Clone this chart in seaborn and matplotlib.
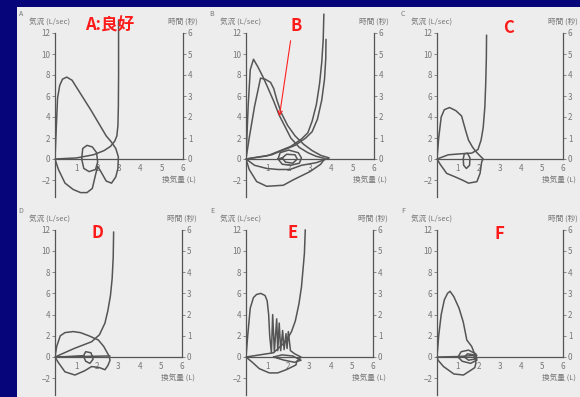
import matplotlib
matplotlib.use("Agg")
import matplotlib.pyplot as plt
from matplotlib.patches import Rectangle, FancyArrowPatch
import pandas as pd
import seaborn as sns

# flow-volume loops: volume (L) / flow (L/sec); volume-time curves: volume (L) / time (sec)
A_fv_vol = [0, 0.05, 0.12, 0.22, 0.35, 0.55, 0.8, 1.7, 2.4, 2.65, 2.85, 2.97, 2.95, 2.85, 2.65, 2.4,
            2.15, 2.0, 1.9, 1.75, 1.5, 1.2, 0.85, 0.47, 0.16, 0]
A_fv_flow = [0, 2.5, 5.8, 7.0, 7.6, 7.8, 7.5, 4.6, 2.2, 1.6, 1.0, 0.2, -0.9, -1.7, -2.3, -2.1,
             -1.2, -0.7, -1.5, -2.8, -3.2, -3.2, -2.9, -2.3, -1.0, 0]
A_tid_vol = [1.25, 1.3, 1.5, 1.75, 1.95, 2.0, 1.9, 1.6, 1.35, 1.25]
A_tid_flow = [0, 1.0, 1.3, 1.15, 0.6, -0.3, -1.0, -1.2, -0.9, 0]
A_vt_vol = [0, 1.0, 1.8, 2.3, 2.6, 2.8, 2.9, 2.95, 2.97, 2.98, 2.98, 2.98]
A_vt_time = [0, 0.05, 0.2, 0.4, 0.6, 0.85, 1.1, 1.6, 2.5, 4.0, 5.5, 6.6]

B_fv1_vol = [0, 0.1, 0.2, 0.35, 0.55, 0.8, 1.0, 1.3, 1.55, 1.85, 2.1, 2.5, 2.9, 3.3, 3.7,
             3.5, 3.0, 2.6, 2.2, 1.75, 0.97, 0.5, 0.15, 0]
B_fv1_flow = [0, 5.0, 8.5, 9.5, 8.8, 7.8, 6.9, 5.5, 4.2, 3.0, 2.0, 1.1, 0.6, 0.25, 0.05,
              -0.5, -1.2, -1.6, -2.0, -2.5, -2.6, -2.15, -1.0, 0]
B_fv2_vol = [0, 0.15, 0.4, 0.68, 0.9, 1.15, 1.3, 1.45, 1.65, 1.95, 2.3, 2.7, 3.1, 3.5, 3.9,
             3.3, 2.6, 2.06, 1.5, 0.97, 0.4, 0]
B_fv2_flow = [0, 2.0, 5.0, 7.7, 7.6, 7.3, 6.7, 5.6, 4.4, 3.2, 2.2, 1.4, 0.8, 0.35, 0.1,
              -0.35, -0.6, -1.0, -1.0, -0.9, -0.6, 0]
B_tid_vol = [1.5, 1.6, 2.0, 2.45, 2.6, 2.5, 2.1, 1.7, 1.5, 1.7, 1.9, 2.3, 2.4, 2.2, 1.85, 1.7]
B_tid_flow = [0, 0.6, 0.85, 0.6, 0.1, -0.4, -0.6, -0.5, 0, 0.1, 0.45, 0.4, 0, -0.4, -0.3, 0.1]
B_vt1_vol = [0, 1.0, 2.1, 2.6, 2.9, 3.1, 3.3, 3.45, 3.55, 3.62, 3.65]
B_vt1_time = [0, 0.15, 0.6, 0.95, 1.25, 1.8, 2.6, 3.6, 4.6, 5.7, 6.9]
B_vt2_vol = [0, 1.2, 2.3, 2.8, 3.1, 3.35, 3.55, 3.68, 3.74, 3.75]
B_vt2_time = [0, 0.2, 0.65, 1.0, 1.3, 1.9, 2.8, 3.8, 4.8, 5.7]

C_fv_vol = [0, 0.08, 0.2, 0.35, 0.6, 0.9, 1.17, 1.35, 1.5, 1.7, 1.9, 2.1, 2.2, 2.13, 2.05, 1.9,
            1.5, 1.2, 0.86, 0.46, 0.15, 0]
C_fv_flow = [0, 2.0, 4.0, 4.7, 4.9, 4.6, 4.1, 2.8, 1.8, 1.1, 0.6, 0.2, 0, -0.25, -1.37, -2.16,
             -2.3, -2.0, -1.7, -1.37, -0.5, 0]
C_tid_vol = [1.25, 1.3, 1.45, 1.57, 1.55, 1.4, 1.27, 1.25]
C_tid_flow = [0, 0.5, 0.55, 0.1, -0.6, -0.9, -0.6, 0]
C_vt_vol = [0, 0.54, 1.17, 1.65, 1.95, 2.1, 2.2, 2.28, 2.32, 2.35, 2.36]
C_vt_time = [0, 0.2, 0.25, 0.28, 0.45, 0.9, 1.5, 2.5, 3.6, 4.8, 5.9]

D_fv_vol = [0, 0.08, 0.25, 0.47, 0.86, 1.2, 1.6, 2.05, 2.3, 2.44, 2.55, 2.6, 2.5, 2.36, 2.1,
            1.73, 1.4, 0.94, 0.47, 0.15, 0]
D_fv_flow = [0, 1.0, 2.0, 2.3, 2.4, 2.3, 2.0, 1.6, 1.0, 0.5, 0.1, -0.3, -0.8, -1.2, -1.0,
             -0.9, -1.3, -1.7, -1.4, -0.5, 0]
D_tid_vol = [1.34, 1.45, 1.7, 1.8, 1.65, 1.45, 1.34, 0, 2.6]
D_tid_flow = [0.1, 0.5, 0.4, -0.2, -0.6, -0.4, 0.1, 0, 0.1]
D_vt_vol = [0, 0.9, 1.73, 2.1, 2.36, 2.5, 2.62, 2.7, 2.75, 2.77]
D_vt_time = [0, 0.4, 0.72, 1.05, 1.6, 2.2, 2.9, 3.7, 4.7, 5.9]

E_fv_vol = [0, 0.08, 0.2, 0.35, 0.5, 0.7, 0.9, 1.0, 1.07, 1.12, 1.2, 1.26, 1.34, 1.45, 1.5, 1.57,
            1.64, 1.73, 1.8, 1.89, 1.94, 2.0, 2.1, 2.3, 2.6, 2.4, 2.36, 1.9, 1.5, 1.1, 0.63, 0.3, 0]
E_fv_flow = [0, 2.0, 4.6, 5.6, 5.9, 6.0, 5.8, 5.3, 4.0, 2.0, 0.4, 4.0, 0.5, 3.6, 0.6, 3.2,
             0.6, 2.5, 0.7, 2.2, 0.8, 2.4, 0.6, 0.3, 0, -0.4, -0.75, -1.2, -1.5, -1.5, -1.1, -0.5, 0]
E_tid_vol = [1.3, 1.7, 2.2, 2.6, 2.3, 1.8, 1.3]
E_tid_flow = [0, 0.2, 0.1, -0.3, -0.5, -0.3, 0]
E_vt_vol = [0, 1.3, 1.9, 2.15, 2.33, 2.5, 2.62, 2.7, 2.76, 2.8]
E_vt_time = [0, 0.2, 0.75, 1.2, 1.7, 2.5, 3.3, 4.2, 4.9, 6.0]

F_fv_vol = [0, 0.08, 0.2, 0.35, 0.5, 0.62, 0.8, 1.05, 1.25, 1.42, 1.65, 1.81, 1.85, 1.8, 1.65,
            1.26, 0.8, 0.31, 0.05, 0]
F_fv_flow = [0, 2.0, 4.0, 5.4, 6.0, 6.2, 5.7, 4.6, 3.3, 1.6, 1.0, 0.2, -0.6, -1.0, -1.2,
             -1.7, -1.6, -0.9, -0.3, 0]
F_tid_vol = [1.0, 1.15, 1.5, 1.85, 1.9, 1.6, 1.2, 1.0, 1.3, 1.45, 1.75, 1.8, 1.5, 1.3]
F_tid_flow = [0, 0.5, 0.65, 0.3, -0.3, -0.6, -0.4, 0, 0, 0.3, 0.2, -0.2, -0.3, 0]
F_vt_vol = [0, 1.0, 1.9]
F_vt_time = [0, 0.02, 0.08]

flow_ticks = [-2, 0, 2, 4, 6, 8, 10, 12]
flow_labels = ["\u22122", "0", "2", "4", "6", "8", "10", "12"]
time_ticks = [0, 1, 2, 3, 4, 5, 6]
vol_ticks = [1, 2, 3, 4, 5, 6]

panels = [
    ("A", "A:良好", (55, 183, 159, 10.5), (110, 25),
     [(A_fv_vol, A_fv_flow), (A_tid_vol, A_tid_flow)], [(A_vt_vol, A_vt_time)]),
    ("B", "B", (246, 374, 159, 10.5), (296, 26),
     [(B_fv1_vol, B_fv1_flow), (B_fv2_vol, B_fv2_flow), (B_tid_vol, B_tid_flow)],
     [(B_vt1_vol, B_vt1_time), (B_vt2_vol, B_vt2_time)]),
    ("C", "C", (437, 563, 159, 10.5), (509, 28),
     [(C_fv_vol, C_fv_flow), (C_tid_vol, C_tid_flow)], [(C_vt_vol, C_vt_time)]),
    ("D", "D", (55, 182, 357, 10.6), (97, 233),
     [(D_fv_vol, D_fv_flow), (D_tid_vol, D_tid_flow)], [(D_vt_vol, D_vt_time)]),
    ("E", "E", (246, 373, 357, 10.6), (293, 233),
     [(E_fv_vol, E_fv_flow), (E_tid_vol, E_tid_flow)], [(E_vt_vol, E_vt_time)]),
    ("F", "F", (437, 563, 357, 10.6), (499, 234),
     [(F_fv_vol, F_fv_flow), (F_tid_vol, F_tid_flow)], [(F_vt_vol, F_vt_time)]),
]

W, H = 580, 397
sns.set_style("white")
plt.rcParams['font.family'] = ['Noto Sans CJK JP', 'DejaVu Sans']

fig = plt.figure(figsize=(W / 100, H / 100), dpi=100, facecolor="#06067a")
fig.patches.append(Rectangle((17 / W, 0), 1 - 17 / W, 1 - 7 / H, transform=fig.transFigure,
                             facecolor="#ededed", edgecolor="none", zorder=-5))

LINE = "#555555"
TXT = "#777777"
YMIN, YMAX = -3.6, 12

for letter, red, (x0, x1, y0, ppu), (rx, ry), fv_curves, vt_curves in panels:
    ybot = y0 - YMIN * ppu
    ytop = y0 - YMAX * ppu
    ax = fig.add_axes([x0 / W, 1 - ybot / H, (x1 - x0) / W, (ybot - ytop) / H])
    ax.set_facecolor("none")
    ax.set_xlim(0, 6)
    ax.set_ylim(YMIN, YMAX)

    for vol, flow in fv_curves:
        df = pd.DataFrame({"vol": vol, "flow": flow})
        sns.lineplot(data=df, x="vol", y="flow", sort=False, estimator=None,
                     color=LINE, lw=1.1, ax=ax, solid_joinstyle="round")

    ax.spines["top"].set_visible(False)
    ax.spines["right"].set_visible(False)
    ax.spines["bottom"].set_position(("data", 0))
    ax.spines["bottom"].set_bounds(0, 6)
    for s in ("left", "bottom"):
        ax.spines[s].set_color(LINE)
        ax.spines[s].set_linewidth(0.9)
    ax.set_yticks(flow_ticks)
    ax.set_yticklabels(flow_labels)
    ax.set_xticks(vol_ticks)
    ax.tick_params(axis="both", labelsize=5.8, colors=TXT, length=2, width=0.6, pad=1.5)
    ax.set_xlabel("")
    ax.set_ylabel("")

    tx = ax.twinx()
    tx.set_ylim(YMIN / 2, YMAX / 2)
    for vol, t in vt_curves:
        df = pd.DataFrame({"vol": vol, "time": t})
        sns.lineplot(data=df, x="vol", y="time", sort=False, estimator=None,
                     color=LINE, lw=1.1, ax=tx, solid_joinstyle="round")
    for line in tx.get_lines():
        line.set_clip_on(False)
    for s in ("top", "left", "bottom"):
        tx.spines[s].set_visible(False)
    tx.spines["right"].set_bounds(0, 6)
    tx.spines["right"].set_color(LINE)
    tx.spines["right"].set_linewidth(0.9)
    tx.set_yticks(time_ticks)
    tx.tick_params(axis="y", labelsize=5.8, colors=TXT, length=2, width=0.6, pad=1.5)
    tx.set_ylabel("")
    tx.set_xlabel("")

    ax.annotate("気流 (L/sec)", xy=(0, 12), xytext=(-4, 8), textcoords="offset points",
                ha="center", va="center", fontsize=5.5, color=TXT)
    ax.annotate("時間 (秒)", xy=(6, 12), xytext=(0, 8), textcoords="offset points",
                ha="center", va="center", fontsize=5.5, color=TXT)
    ax.annotate("換気量 (L)", xy=(5.8, 0), xytext=(0, -15), textcoords="offset points",
                ha="center", va="center", fontsize=5.5, color=TXT)
    fig.text((x0 - 34) / W, 1 - (ytop - 19) / H, letter, fontsize=5, color=TXT,
             ha="center", va="center")
    fig.text(rx / W, 1 - ry / H, red, fontsize=12, color="#ff1a1a", fontweight="bold",
             ha="center", va="center")

# red arrow in panel B
fig.patches.append(FancyArrowPatch((291 / W, 1 - 38 / H), (279 / W, 1 - 119 / H),
                                   transform=fig.transFigure, arrowstyle="->,head_length=3,head_width=1.5",
                                   color="#ff2020", lw=0.8, zorder=5))

fig.savefig("out.png", dpi=100, facecolor=fig.get_facecolor())
